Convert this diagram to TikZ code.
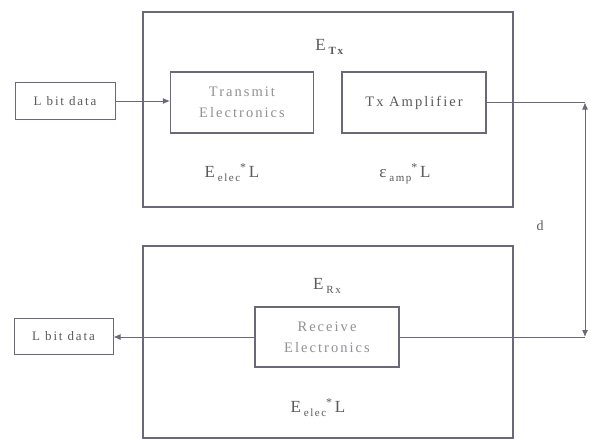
\documentclass[tikz,border=0pt]{standalone}
\usepackage{fontspec}
\setmainfont{Liberation Serif}[LetterSpace=14]
\usetikzlibrary{arrows.meta}
\definecolor{lineC}{RGB}{105,105,120}
\definecolor{textC}{RGB}{90,90,95}
\definecolor{fadeC}{RGB}{145,145,150}
\newcommand{\lowsub}[1]{\raisebox{-0.55ex}{\fontsize{11}{11}\selectfont #1}}
\newcommand{\highsup}[1]{\raisebox{0.7ex}{\fontsize{12}{12}\selectfont #1}}
\begin{document}
\begin{tikzpicture}[x=1pt,y=-1pt,
  outerbox/.style={draw=lineC,line width=1.4pt,minimum width=370pt,inner sep=0pt},
  blockbox/.style={draw=lineC,line width=1.1pt,inner sep=0pt,minimum width=143pt,minimum height=61pt,
    font=\fontsize{14.5}{21}\selectfont,align=center},
  databox/.style={draw=lineC,line width=1pt,inner sep=0pt,minimum width=99pt,minimum height=36pt,
    font=\fontsize{13}{14}\selectfont,text=textC},
  conn/.style={draw=lineC,line width=1pt},
  tip/.style={-{Latex[length=7pt,width=6pt]}},
  elabel/.style={font=\fontsize{17}{18}\selectfont,text=textC,anchor=base,inner sep=0pt}
]
\useasboundingbox (0,0) rectangle (590,442);
\fill[white] (0,0) rectangle (590,442);

% outer boxes
\node[outerbox,minimum height=195pt] (tx) at (328,109.5) {};
\node[outerbox,minimum height=192pt] (rx) at (328,342) {};

% blocks
\node[blockbox,text=fadeC] (te) at (242,102.5) {Transmit\\Electronics};
\node[blockbox,text=textC,minimum width=144pt] (ta) at (414,102.5) {Tx Amplifier};
\node[blockbox,text=fadeC,minimum width=144pt,minimum height=60pt] (re) at (327,337) {Receive\\Electronics};

% data boxes
\node[databox,minimum width=100pt,minimum height=37pt] (inL) at (65,101) {L bit data};
\node[databox] (outL) at (63.5,336) {L bit data};

% labels
\node[elabel] (etx) at (330,50) {E\,\lowsub{\textbf{Tx}}};
\node[elabel] (eel1) at (232,177) {E\,\lowsub{elec}\highsup{*}\,L};
\node[elabel] (eamp) at (405,177) {ε\,\lowsub{amp}\highsup{*}\,L};
\node[elabel] (erx) at (327,289) {E\,\lowsub{Rx}};
\node[elabel] (eel2) at (318,412) {E\,\lowsub{elec}\highsup{*}\,L};
\node[font=\fontsize{14}{14}\selectfont,text=textC] (dl) at (540,226) {d};

% connectors
\coordinate (ctop) at (585,102.5);
\coordinate (cbot) at (585,337);
\draw[conn,tip] (inL.east) -- (inL.east -| te.west);
\draw[conn] (ta.east) -- (ctop);
\draw[conn] (re.east) -- (cbot);
\draw[conn,{Latex[length=7pt,width=6pt]}-{Latex[length=7pt,width=6pt]}] (ctop) -- (cbot);
\draw[conn,tip] (re.west) -- (re.west -| outL.east);
\end{tikzpicture}
\end{document}
